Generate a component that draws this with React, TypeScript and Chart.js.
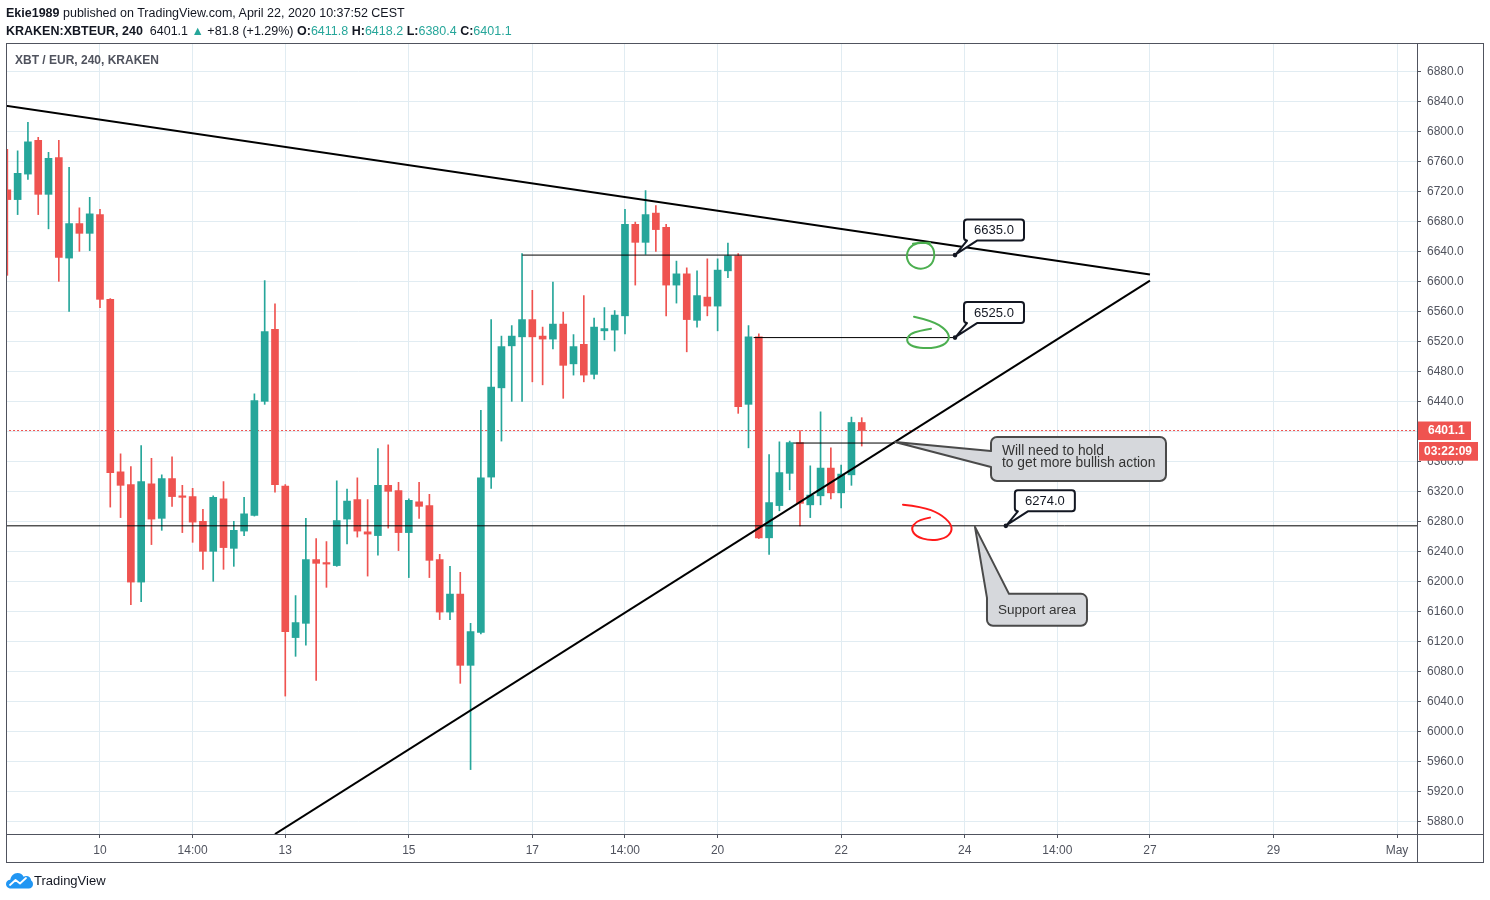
import React, { useEffect, useRef } from "react";
import { Chart, registerables } from "chart.js";

Chart.register(...registerables);

const UP = "#26a69a";
const DOWN = "#ef5350";
const FRAME = "#50535e";
const GRID = "#e1ecf2";
const TEXT = "#131722";
const AXIS_TEXT = "#50535e";
const FONT = "'Liberation Sans', Arial, sans-serif";

// 4h candles, index 0 = first visible candle (day "10" is index 9)
const opens = [
  6722, 6709, 6743, 6788, 6716, 6765, 6631, 6677, 6664, 6689,
  6576, 6346, 6329, 6199, 6330, 6284, 6337, 6314, 6313, 6280,
  6240, 6310, 6244, 6267, 6288, 6440, 6536, 6327, 6125, 6144,
  6229, 6225, 6221, 6283, 6309, 6266, 6261, 6328, 6321, 6265,
  6306, 6301, 6229, 6159, 6183, 6088, 6132, 6339, 6458, 6514,
  6526, 6549, 6527, 6523, 6543, 6490, 6516, 6476, 6534, 6535,
  6554, 6676, 6652, 6691, 6672, 6595, 6610, 6548, 6579, 6567,
  6614, 6634, 6436, 6526, 6258, 6301, 6344, 6385, 6302, 6314,
  6351, 6318, 6342, 6411.8,
];
const highs = [
  6776, 6774, 6812, 6792, 6772, 6788, 6752, 6698, 6712, 6696,
  6577, 6370, 6353, 6381, 6364, 6342, 6366, 6328, 6324, 6296,
  6314, 6333, 6280, 6312, 6450, 6601, 6570, 6329, 6181, 6284,
  6257, 6253, 6334, 6323, 6338, 6309, 6377, 6382, 6332, 6310,
  6332, 6316, 6236, 6220, 6212, 6144, 6428, 6549, 6527, 6541,
  6637, 6588, 6539, 6599, 6559, 6529, 6581, 6551, 6565, 6561,
  6696, 6679, 6721, 6701, 6676, 6627, 6618, 6614, 6630, 6630,
  6651, 6637, 6541, 6530, 6369, 6386, 6387, 6401, 6354, 6426,
  6378, 6355, 6419, 6418.2,
];
const lows = [
  6608, 6689, 6736, 6689, 6670, 6600, 6560, 6640, 6641, 6565,
  6299, 6285, 6169, 6173, 6249, 6268, 6300, 6265, 6252, 6216,
  6200, 6216, 6220, 6261, 6287, 6436, 6319, 6047, 6100, 6115,
  6068, 6192, 6220, 6250, 6259, 6207, 6235, 6271, 6241, 6205,
  6284, 6205, 6149, 6149, 6064, 5949, 6130, 6324, 6387, 6440,
  6440, 6466, 6462, 6510, 6444, 6475, 6466, 6470, 6522, 6507,
  6530, 6595, 6636, 6640, 6554, 6571, 6506, 6539, 6554, 6534,
  6605, 6424, 6378, 6257, 6236, 6294, 6322, 6274, 6285, 6302,
  6310, 6298, 6328, 6380.4,
];
const closes = [
  6709, 6744, 6786, 6716, 6764, 6632, 6677, 6664, 6690, 6576,
  6345, 6328, 6199, 6333, 6283, 6337, 6313, 6312, 6279, 6240,
  6312, 6245, 6268, 6290, 6441, 6533, 6329, 6133, 6145, 6229,
  6224, 6223, 6281, 6307, 6267, 6263, 6328, 6320, 6265, 6308,
  6300, 6228, 6159, 6183, 6088, 6133, 6338, 6459, 6513, 6527,
  6549, 6526, 6523, 6543, 6488, 6513, 6475, 6539, 6537, 6555,
  6676, 6652, 6689, 6669, 6595, 6610, 6549, 6581, 6567, 6615,
  6634, 6433, 6526, 6258, 6305, 6345, 6385, 6304, 6315, 6351,
  6318, 6343, 6411.8, 6401.1,
];

const timeTickIndex = [9, 18, 27, 39, 51, 60, 69, 81, 93, 102, 111, 123, 135];
const timeTickLabels = ["10", "14:00", "13", "15", "17", "14:00", "20", "22", "24", "14:00", "27", "29", "May"];
const priceTicks = [
  5880, 5920, 5960, 6000, 6040, 6080, 6120, 6160, 6200, 6240, 6280,
  6320, 6360, 6400, 6440, 6480, 6520, 6560, 6600, 6640, 6680, 6720,
  6760, 6800, 6840, 6880,
];

const xRange = [-0.13, 136.94];
const yRange = [5863.1, 6917.8];

const lastPrice = 6401.1;
const countdown = "03:22:09";

// drawings (in index / price units)
const resistanceLine = [{ x: -1, y: 6836 }, { x: 111, y: 6609 }];
const risingLine = [{ x: 26, y: 5863 }, { x: 111, y: 6601 }];
const level6635 = [{ x: 50.03, y: 6635 }, { x: 92.06, y: 6635 }];
const level6525 = [{ x: 72.5, y: 6525 }, { x: 92.06, y: 6525 }];
const holdLevel = [{ x: 76.35, y: 6384.4 }, { x: 86.23, y: 6384.4 }];
const supportLevel = [{ x: -1, y: 6274 }, { x: 140, y: 6274 }];
const lastPriceLine = [{ x: -1, y: lastPrice }, { x: 140, y: lastPrice }];

const priceLabels = [
  { x: 92.06, y: 6635, text: "6635.0" },
  { x: 92.06, y: 6525, text: "6525.0" },
  { x: 97.0, y: 6274, text: "6274.0" },
];
const holdNote = { x: 86.23, y: 6384.4, lines: ["Will need to hold", "to get more bullish action"] };
const supportNote = { x: 94.0, y: 6274, text: "Support area" };

// hand-drawn scribbles: pixel offsets from an anchor (index, price)
const scribbles = [
  {
    x: 92.06, y: 6635, color: "#4caf50",
    pts: [[-42, -11.4], [-30, -13.4], [-22, -8.4], [-20, 1.6], [-24, 10.6], [-34, 14.6], [-45, 10.6], [-49, 1.6], [-46, -7.4], [-38, -12.4], [-25, -12.4]],
  },
  {
    x: 92.06, y: 6525, color: "#4caf50",
    pts: [[-41, -20.9], [-23, -16.9], [-9, -7.9], [-5, 0.1], [-11, 8.1], [-27, 11.1], [-43, 9.1], [-49, 3.1], [-45, -3.9], [-35, -6.9], [-24, -8.9]],
  },
  {
    x: 94.0, y: 6274, color: "#ff1a1a",
    pts: [[-72, -21.2], [-53, -19.2], [-35, -12.2], [-24, -2.2], [-23, 5.8], [-30, 12.8], [-45, 14.8], [-59, 10.8], [-64, 2.8], [-59, -4.2], [-50, -7.2], [-45, -8.2]],
  },
];

function smoothPath(ctx: CanvasRenderingContext2D, p: number[][]) {
  ctx.beginPath();
  ctx.moveTo(p[0][0], p[0][1]);
  for (let i = 1; i < p.length - 1; i++) {
    const mx = (p[i][0] + p[i + 1][0]) / 2;
    const my = (p[i][1] + p[i + 1][1]) / 2;
    ctx.quadraticCurveTo(p[i][0], p[i][1], mx, my);
  }
  const l = p[p.length - 1];
  ctx.lineTo(l[0], l[1]);
}

const overlayPlugin = {
  id: "overlay",
  afterDraw(chart: any) {
    const { ctx, chartArea } = chart;
    const xs = chart.scales.x;
    const ys = chart.scales.y;
    const X = (v: number) => xs.getPixelForValue(v);
    const Y = (v: number) => ys.getPixelForValue(v);
    ctx.save();

    // frame
    ctx.strokeStyle = FRAME;
    ctx.lineWidth = 1;
    const fl = chartArea.left, ft = chartArea.top, fr = ys.right, fb = xs.bottom;
    ctx.strokeRect(fl + 0.5, ft + 0.5, fr - fl - 1, fb - ft);
    ctx.beginPath();
    ctx.moveTo(chartArea.right + 0.5, ft);
    ctx.lineTo(chartArea.right + 0.5, fb);
    ctx.moveTo(fl, chartArea.bottom + 0.5);
    ctx.lineTo(fr, chartArea.bottom + 0.5);
    ctx.stroke();

    // symbol title
    ctx.fillStyle = AXIS_TEXT;
    ctx.font = `bold 12px ${FONT}`;
    ctx.textBaseline = "middle";
    ctx.textAlign = "left";
    ctx.fillText("XBT / EUR, 240, KRAKEN", fl + 9, ft + 17.5);

    // scribbles
    ctx.lineWidth = 2;
    ctx.lineCap = "round";
    ctx.lineJoin = "round";
    for (const s of scribbles) {
      const ax = X(s.x), ay = Y(s.y);
      ctx.strokeStyle = s.color;
      smoothPath(ctx, s.pts.map(([dx, dy]) => [ax + dx, ay + dy]));
      ctx.stroke();
    }

    // price label callouts
    for (const p of priceLabels) {
      const ax = X(p.x), ay = Y(p.y);
      const L = ax + 9, R = ax + 69, T = ay - 35.5, B = ay - 14.5, r = 3;
      ctx.beginPath();
      ctx.moveTo(L + r, T);
      ctx.lineTo(R - r, T);
      ctx.arcTo(R, T, R, T + r, r);
      ctx.lineTo(R, B - r);
      ctx.arcTo(R, B, R - r, B, r);
      ctx.lineTo(ax + 22, B);
      ctx.lineTo(ax + 1, ay - 1);
      ctx.lineTo(ax + 12, B);
      ctx.lineTo(L + r, B);
      ctx.arcTo(L, B, L, B - r, r);
      ctx.lineTo(L, T + r);
      ctx.arcTo(L, T, L + r, T, r);
      ctx.closePath();
      ctx.fillStyle = "#ffffff";
      ctx.fill();
      ctx.strokeStyle = TEXT;
      ctx.lineWidth = 2;
      ctx.stroke();
      ctx.fillStyle = TEXT;
      ctx.font = `13px ${FONT}`;
      ctx.textAlign = "center";
      ctx.fillText(p.text, (L + R) / 2, (T + B) / 2 + 0.5);
      ctx.beginPath();
      ctx.arc(ax, ay, 2.3, 0, Math.PI * 2);
      ctx.fill();
    }

    // hold note callout
    {
      const ax = X(holdNote.x), ay = Y(holdNote.y);
      const L = ax + 96, R = ax + 271, T = ay - 6, B = ay + 38, r = 6;
      ctx.beginPath();
      ctx.moveTo(L + r, T);
      ctx.lineTo(R - r, T);
      ctx.arcTo(R, T, R, T + r, r);
      ctx.lineTo(R, B - r);
      ctx.arcTo(R, B, R - r, B, r);
      ctx.lineTo(L + r, B);
      ctx.arcTo(L, B, L, B - r, r);
      ctx.lineTo(L, ay + 24);
      ctx.lineTo(ax, ay - 1);
      ctx.lineTo(L, ay + 8);
      ctx.lineTo(L, T + r);
      ctx.arcTo(L, T, L + r, T, r);
      ctx.closePath();
      ctx.fillStyle = "#d6d8dc";
      ctx.fill();
      ctx.strokeStyle = "#4a4a4a";
      ctx.lineWidth = 2;
      ctx.stroke();
      ctx.fillStyle = "#333333";
      ctx.font = `13.8px ${FONT}`;
      ctx.textAlign = "left";
      ctx.fillText(holdNote.lines[0], L + 11, ay + 8);
      ctx.fillText(holdNote.lines[1], L + 11, ay + 20.5);
    }

    // support note callout
    {
      const ax = X(supportNote.x), ay = Y(supportNote.y);
      const L = ax + 12, R = ax + 112, T = ay + 68, B = ay + 100, r = 6;
      ctx.beginPath();
      ctx.moveTo(L + 22, T);
      ctx.lineTo(R - r, T);
      ctx.arcTo(R, T, R, T + r, r);
      ctx.lineTo(R, B - r);
      ctx.arcTo(R, B, R - r, B, r);
      ctx.lineTo(L + r, B);
      ctx.arcTo(L, B, L, B - r, r);
      ctx.lineTo(L, T + 4);
      ctx.lineTo(ax, ay + 1);
      ctx.closePath();
      ctx.fillStyle = "#d6d8dc";
      ctx.fill();
      ctx.strokeStyle = "#4a4a4a";
      ctx.lineWidth = 2;
      ctx.stroke();
      ctx.fillStyle = "#333333";
      ctx.font = `13.5px ${FONT}`;
      ctx.textAlign = "left";
      ctx.fillText(supportNote.text, L + 11, (T + B) / 2 + 0.5);
    }

    // last price labels on the price axis
    const py = Y(lastPrice);
    const axL = chartArea.right + 1;
    ctx.fillStyle = DOWN;
    ctx.fillRect(axL, py - 9, 53, 18.5);
    ctx.fillRect(axL + 1, py + 11.5, 59, 18.7);
    ctx.fillStyle = "#ffffff";
    ctx.font = `bold 12px ${FONT}`;
    ctx.textAlign = "left";
    ctx.fillText(lastPrice.toFixed(1), axL + 10, py + 0.5);
    ctx.fillText(countdown, axL + 6, py + 21);

    ctx.restore();
  },
};

export default function App() {
  const ref = useRef<HTMLCanvasElement>(null);

  useEffect(() => {
    const canvas = ref.current;
    if (!canvas) return;
    const idx = opens.map((_, i) => i);
    const colors = idx.map((i) => (closes[i] >= opens[i] ? UP : DOWN));
    const wickData = idx.map((i) => ({ x: i, y: [lows[i], highs[i]] }));
    const bodyData = idx.map((i) => ({ x: i, y: [opens[i], closes[i]] }));

    const lineDs = (data: any[], color: string, width: number, order: number, dash: number[] = []) => ({
      type: "line" as const,
      data,
      borderColor: color,
      borderWidth: width,
      borderDash: dash,
      pointRadius: 0,
      pointHoverRadius: 0,
      fill: false,
      tension: 0,
      order,
    });

    const chart = new Chart(canvas, {
      type: "bar",
      data: {
        datasets: [
          lineDs(lastPriceLine, DOWN, 1, 20, [2, 2]),
          {
            type: "bar",
            data: wickData as any,
            backgroundColor: colors,
            barThickness: 1,
            grouped: false,
            borderWidth: 0,
            order: 10,
          } as any,
          {
            type: "bar",
            data: bodyData as any,
            backgroundColor: colors,
            barThickness: 7,
            grouped: false,
            borderWidth: 0,
            minBarLength: 1,
            order: 9,
          } as any,
          lineDs(supportLevel, "#000000", 1, 3),
          lineDs(level6635, "#000000", 1, 3),
          lineDs(level6525, "#000000", 1, 3),
          lineDs(holdLevel, "#000000", 1, 3),
          lineDs(resistanceLine, "#000000", 2, 2),
          lineDs(risingLine, "#000000", 2, 2),
        ] as any,
      },
      options: {
        responsive: false,
        animation: false,
        events: [],
        layout: { padding: { left: 6, top: 43, right: 6, bottom: 38 } },
        plugins: {
          legend: { display: false },
          tooltip: { enabled: false },
        },
        scales: {
          x: {
            type: "linear",
            min: xRange[0],
            max: xRange[1],
            offset: false,
            grid: { color: GRID, tickColor: FRAME, tickLength: 4, offset: false },
            border: { color: FRAME },
            afterBuildTicks: (s: any) => {
              s.ticks = timeTickIndex.map((v) => ({ value: v }));
            },
            afterFit: (s: any) => {
              s.height = 28;
            },
            ticks: {
              autoSkip: false,
              maxRotation: 0,
              padding: 5,
              color: AXIS_TEXT,
              font: { family: FONT, size: 12 },
              callback: (v: any) => {
                const k = timeTickIndex.indexOf(Number(v));
                return k >= 0 ? timeTickLabels[k] : "";
              },
            },
          },
          y: {
            type: "linear",
            position: "right",
            min: yRange[0],
            max: yRange[1],
            grid: { color: GRID, tickColor: FRAME, tickLength: 4 },
            border: { color: FRAME },
            afterBuildTicks: (s: any) => {
              s.ticks = priceTicks.map((v) => ({ value: v }));
            },
            afterFit: (s: any) => {
              s.width = 67;
            },
            ticks: {
              padding: 6,
              color: AXIS_TEXT,
              font: { family: FONT, size: 12 },
              callback: (v: any) => Number(v).toFixed(1),
            },
          },
        },
      } as any,
      plugins: [overlayPlugin],
    });
    return () => chart.destroy();
  }, []);

  return (
    <div
      style={{
        position: "fixed",
        left: 0,
        top: 0,
        width: 1490,
        height: 900,
        background: "#ffffff",
        overflow: "hidden",
      }}
    >
      <canvas
        ref={ref}
        width={1490}
        height={900}
        style={{ position: "absolute", left: 0, top: 0, width: 1490, height: 900 }}
      />
      <div
        style={{
          position: "absolute",
          left: 6,
          top: 4,
          fontFamily: FONT,
          fontSize: 12.5,
          lineHeight: "18px",
          color: TEXT,
          whiteSpace: "nowrap",
        }}
      >
        <div>
          <b>Ekie1989</b> published on TradingView.com, April 22, 2020 10:37:52 CEST
        </div>
        <div>
          <b>KRAKEN:XBTEUR, 240</b>&nbsp; 6401.1 <span style={{ color: UP }}>▲</span> +81.8 (+1.29%){" "}
          <b>O:</b>
          <span style={{ color: UP }}>6411.8</span> <b>H:</b>
          <span style={{ color: UP }}>6418.2</span> <b>L:</b>
          <span style={{ color: UP }}>6380.4</span> <b>C:</b>
          <span style={{ color: UP }}>6401.1</span>
        </div>
      </div>
      <div
        style={{
          position: "absolute",
          left: 6,
          top: 872,
          display: "flex",
          alignItems: "center",
          fontFamily: FONT,
          fontSize: 13,
          color: TEXT,
        }}
      >
        <svg width="27" height="17" viewBox="0 0 27 17">
          <path
            d="M5 16.5 C1.5 16.5 0 14 0 12 C0 9.5 2 7.8 4.3 7.8 C4.8 4 7.8 1 11.5 1 C14.5 1 16.6 2.6 17.6 4.8 C18.4 4.3 19.3 4 20.3 4 C23 4 25 6 25.2 8.6 C26.4 9.3 27 10.6 27 12.2 C27 14.6 25.2 16.5 22.8 16.5 Z"
            fill="#2196f3"
          />
          <polyline
            points="4,13 9.5,8 14,11.5 20,6"
            stroke="#ffffff"
            strokeWidth="1.8"
            fill="none"
            strokeLinejoin="round"
            strokeLinecap="round"
          />
        </svg>
        <span style={{ marginLeft: 1 }}>TradingView</span>
      </div>
    </div>
  );
}
